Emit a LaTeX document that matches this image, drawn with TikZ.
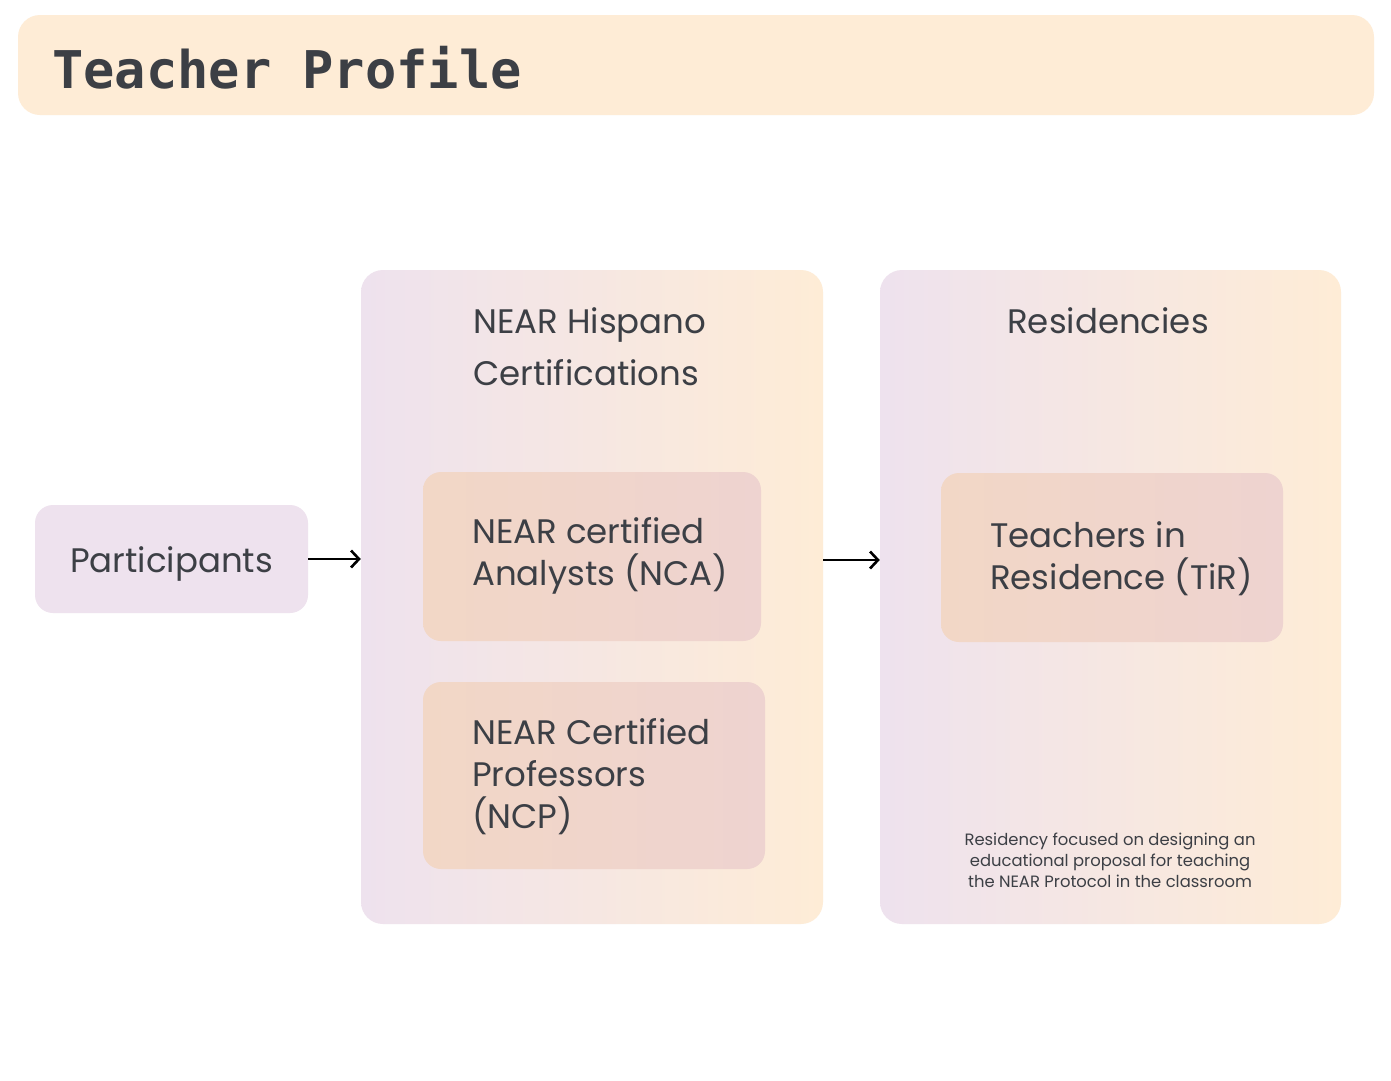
\documentclass[tikz,border=0pt]{standalone}
\usepackage{fontspec}
\setmainfont{Poppins}
\newfontfamily\titlefont{DejaVu Sans Mono}
\usetikzlibrary{arrows.meta}
\definecolor{lav}{HTML}{EEE2EE}
\definecolor{peach}{HTML}{FEECD6}
\definecolor{inA}{HTML}{F2D7C6}
\definecolor{inB}{HTML}{EED3D0}
\definecolor{ink}{HTML}{3C3F45}
\tikzset{
  box/.style={inner sep=0pt, rounded corners=18pt, draw=none},
  bigbox/.style={box, left color=lav, right color=peach, rounded corners=22pt},
  inbox/.style={box, left color=inA, right color=inB},
  lbl/.style={text=ink, font=\fontsize{34}{42}\selectfont, align=left, inner sep=0pt},
  conn/.style={draw=black, line width=2.6pt, -{Straight Barb[length=8pt,width=17pt,line width=2.6pt]}}
}
\begin{document}
\begin{tikzpicture}[x=1pt,y=-1pt]
\useasboundingbox (0,0) rectangle (1391,1080);
\fill[white] (0,0) rectangle (1391,1080);
% title
\node[box, fill=peach, rounded corners=22pt, minimum width=1356pt, minimum height=100pt] (title) at (696,65) {};
\node[anchor=base west, text=ink, inner sep=0pt, font=\titlefont\bfseries\fontsize{52}{60}\selectfont] (titletext) at (52,88) {Teacher Profile};
% participants
\node[box, fill=lav, minimum width=273pt, minimum height=108pt] (part) at (171.5,559) {};
\node[lbl, anchor=base] (parttext) at (171.5,572) {Participants};
% certifications
\node[bigbox, minimum width=462pt, minimum height=654pt] (cert) at (592,597) {};
\node[lbl, anchor=base west, font=\fontsize{34}{52}\selectfont] (certtext) at (473,385) {NEAR Hispano\\Certifications};
\node[inbox, minimum width=338pt, minimum height=169pt] (nca) at (592,556.5) {};
\node[lbl, anchor=base west] (ncatext) at (472,585) {NEAR certified\\Analysts (NCA)};
\node[inbox, minimum width=342pt, minimum height=187pt] (ncp) at (594,775.5) {};
\node[lbl, anchor=base west] (ncptext) at (472,828) {NEAR Certified\\Professors\\(NCP)};
% residencies
\node[bigbox, minimum width=461pt, minimum height=654pt] (res) at (1110.5,597) {};
\node[lbl, anchor=base] (restext) at (1108,333) {Residencies};
\node[inbox, minimum width=342pt, minimum height=169pt] (tir) at (1112,557.5) {};
\node[lbl, anchor=base west] (tirtext) at (990,589) {Teachers in\\Residence (TiR)};
\node[text=ink, align=center, inner sep=0pt, font=\fontsize{16.4}{21}\selectfont, anchor=base] (note) at (1110,887) {Residency focused on designing an\\educational proposal for teaching\\the NEAR Protocol in the classroom};
% connectors
\draw[conn] (part.east) -- (part.east -| cert.west);
\coordinate (a2) at (cert.east |- 0,560);
\draw[conn] (a2) -- (a2 -| res.west);
\end{tikzpicture}
\end{document}
